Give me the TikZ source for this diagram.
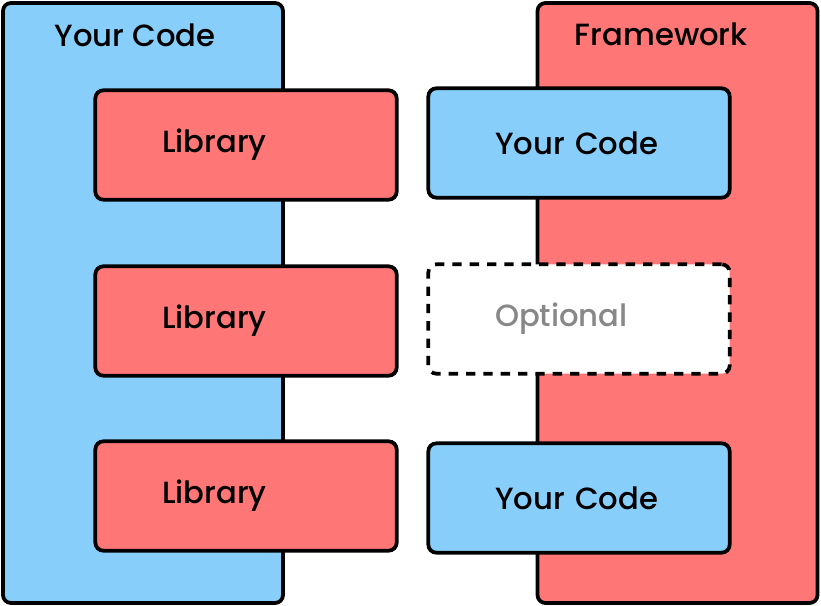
\documentclass[tikz,border=0pt]{standalone}
\usepackage{fontspec}
\setmainfont{Poppins}[UprightFont={* Medium}]
\usepackage{tikz}

\definecolor{codeblue}{RGB}{135,206,250}
\definecolor{libred}{RGB}{255,118,118}
\definecolor{optgray}{RGB}{136,136,136}

\begin{document}
\begin{tikzpicture}[x=0.75pt,y=-0.75pt]
\tikzstyle{every node}=[draw,line width=2.8pt,rounded corners=6pt,inner sep=0pt,font=\fontsize{23}{27}\selectfont];
\tikzstyle{big}=[minimum width=210pt,minimum height=450pt];
\tikzstyle{small}=[minimum height=82pt,inner xsep=50pt,text width=126pt,align=left];
\tikzstyle{title}=[draw=none,anchor=base west];
\useasboundingbox (0,0) rectangle (821,606);
% left side: your code calls libraries
%   nodes
    \node[big,fill=codeblue] (code) at (143,303) {};
    \node[title] (codetitle) at (53,47) {Your Code};
    \node[small,fill=libred] (lib1) at (246,145) {Library};
    \node[small,fill=libred] (lib2) at (246,321) {Library};
    \node[small,fill=libred] (lib3) at (246,496) {Library};
% right side: framework calls your code
%   nodes
    \node[big,fill=libred] (frame) at (677.5,303) {};
    \node[title] (frametitle) at (573,46) {Framework};
    \node[small,fill=codeblue] (yc1) at (579,143) {Your Code};
    \node[small,fill=white,dashed,dash pattern=on 7pt off 6pt,text=optgray] (opt) at (579,319) {Optional};
    \node[small,fill=codeblue] (yc2) at (579,498) {Your Code};
\end{tikzpicture}
\end{document}
